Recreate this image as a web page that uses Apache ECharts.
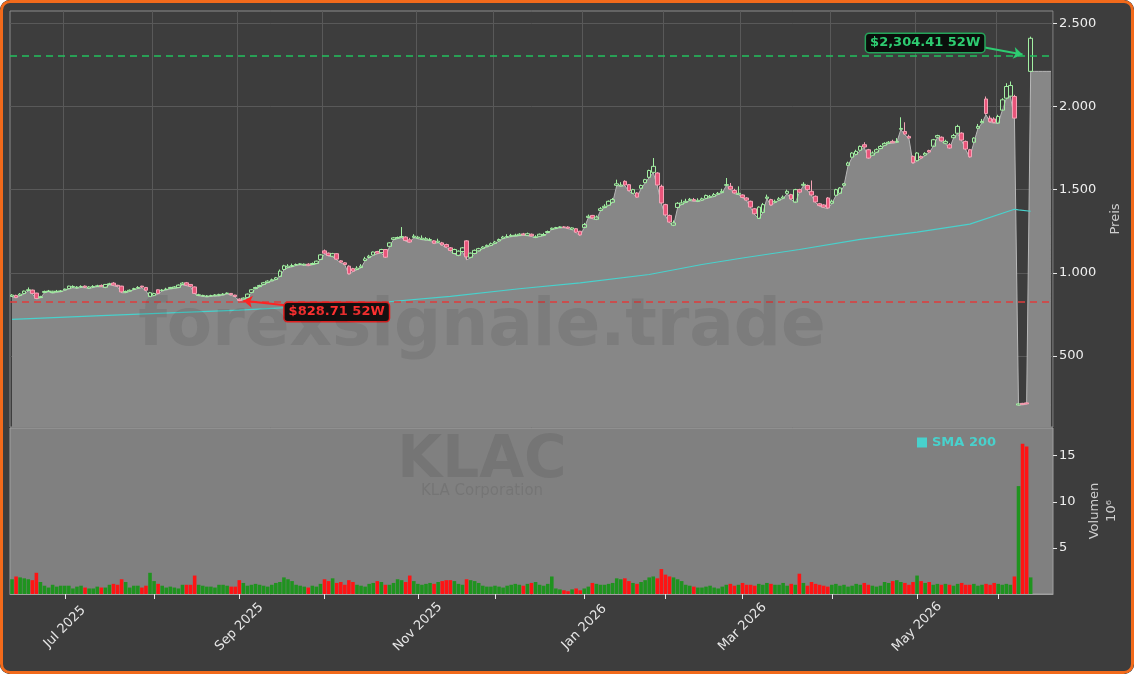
<!DOCTYPE html>
<html>
<head>
<meta charset="utf-8">
<script src="https://cdn.jsdelivr.net/npm/echarts@6/dist/echarts.min.js"></script>
<style>
html,body{margin:0;padding:0;background:#ffffff;}
#wrap{position:relative;width:1134px;height:674px;border-radius:10px;overflow:hidden;background:#3d3d3d;}
#chart{position:absolute;left:0;top:0;width:1134px;height:674px;}
#frame{position:absolute;left:0;top:0;width:1134px;height:674px;box-sizing:border-box;border:3px solid #f26a1b;border-radius:10px;pointer-events:none;}
</style>
</head>
<body>
<div id="wrap"><div id="chart"></div><div id="frame"></div></div>
<script>
// ---------- DATA ----------
const START_DATE = '2025-06-11';
const HOLIDAYS = ['2025-06-19','2025-07-04','2025-09-01','2025-11-27','2025-12-25','2026-01-01','2026-01-19','2026-02-16','2026-04-03','2026-05-25','2026-06-19'];
const EXTRA_SLOTS = 5;

const OPEN = [858,864,864,876,894,896,878,851,882,888,881,886,888,897,905,913,910,915,920,908,914,918,924,913,930,938,925,920,883,890,900,908,920,912,858,864,898,893,899,905,909,912,930,940,930,915,864,860,857,860,862,863,868,875,876,866,842,842,851,882,905,917,930,942,952,960,978,1020,1033,1038,1046,1050,1047,1052,1050,1056,1080,1132,1118,1100,1115,1072,1060,1040,1025,1020,1032,1074,1092,1107,1128,1122,1140,1159,1201,1208,1213,1215,1198,1213,1208,1201,1198,1195,1192,1183,1180,1170,1150,1116,1105,1128,1192,1093,1116,1132,1147,1157,1165,1177,1192,1207,1214,1219,1222,1225,1234,1225,1232,1213,1220,1225,1242,1261,1267,1272,1276,1275,1262,1265,1250,1273,1333,1345,1322,1375,1392,1406,1424,1526,1522,1550,1530,1478,1480,1508,1542,1574,1604,1600,1520,1410,1345,1286,1393,1412,1424,1436,1440,1430,1437,1448,1454,1460,1472,1482,1526,1520,1495,1472,1468,1450,1430,1385,1327,1363,1448,1440,1424,1437,1448,1478,1470,1425,1500,1526,1525,1490,1460,1415,1408,1450,1418,1466,1478,1526,1646,1695,1712,1737,1770,1740,1707,1725,1747,1767,1779,1790,1785,1863,1850,1820,1700,1674,1700,1708,1735,1761,1815,1815,1779,1770,1812,1839,1840,1790,1740,1785,1869,1902,2045,1930,1925,1900,1978,2050,2062,2060,205,215,218,2211];
const CLOSE = [866,852,872,890,898,876,846,856,888,890,889,889,891,902,920,918,914,918,913,915,918,922,919,930,934,926,920,885,888,895,905,912,914,895,880,875,876,896,902,912,915,926,938,926,919,876,868,864,861,863,867,870,872,878,868,858,834,848,872,898,912,924,940,950,958,970,1010,1042,1040,1044,1050,1054,1052,1046,1056,1070,1108,1118,1104,1115,1082,1064,1050,994,1010,1028,1040,1084,1100,1125,1118,1140,1094,1180,1210,1212,1218,1194,1185,1220,1214,1208,1205,1200,1178,1190,1168,1155,1134,1140,1130,1150,1096,1118,1135,1145,1155,1165,1175,1185,1200,1215,1218,1225,1226,1232,1228,1235,1222,1216,1232,1230,1248,1268,1272,1276,1273,1268,1270,1244,1228,1290,1340,1330,1335,1385,1400,1430,1440,1535,1528,1528,1494,1500,1455,1525,1560,1615,1640,1528,1420,1348,1305,1300,1418,1420,1430,1442,1433,1436,1445,1465,1460,1470,1478,1490,1530,1503,1480,1478,1453,1437,1395,1355,1395,1410,1455,1408,1430,1445,1455,1490,1444,1500,1485,1532,1500,1468,1426,1404,1395,1390,1430,1500,1510,1535,1660,1720,1730,1760,1756,1690,1720,1740,1760,1778,1785,1782,1790,1868,1834,1810,1662,1720,1690,1718,1726,1800,1825,1793,1790,1750,1825,1880,1798,1744,1697,1810,1880,1910,1958,1908,1903,1940,2040,2120,2126,1930,212,209,212,2410];
const LOW = [855,849,862,873,891,873,843,849,880,885,878,882,885,895,903,910,906,912,910,905,912,916,916,910,928,922,916,880,880,888,898,905,910,891,855,862,873,891,897,903,907,910,928,922,916,873,861,858,855,858,860,861,866,873,865,855,829,840,849,880,903,915,928,940,950,958,976,1018,1030,1036,1044,1048,1045,1042,1048,1054,1078,1114,1100,1096,1078,1060,1048,990,1006,1018,1030,1072,1090,1105,1114,1120,1090,1157,1199,1205,1211,1190,1181,1211,1205,1199,1196,1193,1175,1181,1165,1151,1130,1114,1102,1125,1078,1090,1114,1130,1145,1155,1163,1175,1190,1205,1212,1217,1220,1223,1225,1223,1218,1211,1218,1223,1240,1259,1265,1270,1271,1265,1259,1240,1223,1271,1331,1325,1319,1373,1390,1404,1422,1524,1520,1524,1490,1476,1452,1506,1540,1572,1602,1524,1416,1343,1300,1283,1391,1410,1422,1434,1430,1428,1435,1446,1452,1458,1470,1480,1524,1500,1476,1470,1450,1434,1391,1350,1325,1361,1446,1404,1422,1435,1446,1476,1440,1422,1482,1524,1495,1464,1422,1400,1392,1385,1416,1464,1476,1524,1644,1693,1710,1735,1753,1687,1705,1723,1745,1765,1777,1780,1783,1861,1830,1807,1657,1672,1687,1705,1723,1759,1813,1790,1777,1747,1810,1837,1795,1740,1693,1783,1867,1900,1950,1904,1900,1898,1976,2048,2060,1928,203,206,210,2211];
const HIGH = [872,868,878,893,912,899,880,862,893,897,892,897,896,905,922,925,920,925,924,920,926,928,930,932,940,944,928,922,893,900,910,920,922,915,885,880,900,902,910,915,920,930,944,945,932,918,874,868,866,868,872,874,878,882,878,868,846,852,875,902,916,928,945,955,965,975,1020,1048,1052,1055,1056,1058,1056,1058,1062,1073,1112,1140,1122,1120,1118,1076,1064,1045,1030,1040,1052,1096,1108,1128,1132,1144,1142,1184,1214,1218,1275,1220,1210,1232,1222,1225,1215,1210,1196,1205,1186,1175,1155,1145,1135,1155,1196,1122,1140,1150,1160,1170,1182,1192,1206,1222,1232,1234,1235,1238,1240,1242,1236,1226,1236,1240,1254,1272,1276,1280,1281,1280,1274,1268,1252,1300,1350,1348,1345,1395,1412,1435,1450,1560,1545,1556,1534,1505,1485,1530,1565,1620,1690,1605,1530,1415,1350,1315,1425,1440,1445,1450,1450,1448,1452,1470,1468,1480,1486,1505,1570,1540,1505,1520,1472,1455,1434,1390,1400,1420,1470,1445,1440,1455,1465,1500,1475,1505,1505,1545,1530,1555,1465,1420,1412,1455,1440,1505,1515,1540,1668,1725,1740,1765,1785,1745,1730,1748,1768,1785,1792,1800,1810,1935,1905,1830,1705,1725,1705,1725,1740,1805,1830,1820,1800,1780,1835,1890,1845,1795,1745,1815,1895,1925,2060,1945,1935,1950,2050,2140,2150,2070,214,218,220,2420];
// area continues flat after the last candle
const AREA_TAIL = [2211,2211,2211,2211,2211];

// volume in millions
const VOLUME = [
1.6,1.9,1.8,1.7,1.6,1.5,2.3,1.3,0.9,0.7,
1.0,0.8,0.9,0.9,0.9,0.6,0.8,0.9,0.7,0.6,
0.6,0.8,0.7,0.7,1.0,1.1,1.0,1.6,1.3,0.7,
0.9,0.9,0.7,0.9,2.3,1.4,1.1,0.9,0.7,0.8,
0.7,0.6,1.0,1.0,1.0,2.0,1.0,0.9,0.8,0.8,
0.7,1.0,1.0,0.9,0.8,0.8,1.5,1.2,0.9,1.0,
1.1,1.0,0.9,0.8,1.0,1.2,1.3,1.8,1.6,1.4,
1.0,0.9,0.8,0.7,0.9,0.8,1.1,1.6,1.4,1.7,
1.2,1.3,1.0,1.5,1.3,1.0,0.9,0.8,1.1,1.2,
1.4,1.3,1.0,1.0,1.2,1.6,1.5,1.3,2.0,1.4,
1.1,1.0,1.1,1.2,1.1,1.3,1.4,1.5,1.5,1.4,
1.1,1.0,1.6,1.5,1.4,1.2,0.9,0.8,0.8,0.9,
0.8,0.7,0.9,1.0,1.1,1.0,0.9,1.1,1.2,1.3,
1.0,0.9,1.1,1.9,0.6,0.5,0.4,0.3,0.5,0.6,
0.4,0.6,0.8,1.2,1.1,1.0,1.0,1.1,1.2,1.7,
1.6,1.7,1.4,1.2,1.1,1.3,1.5,1.8,1.9,1.7,
2.7,2.1,1.9,1.8,1.6,1.4,1.0,0.9,0.8,0.7,
0.7,0.8,0.9,0.7,0.6,0.8,1.0,1.1,0.9,1.0,
1.2,1.0,1.0,0.9,1.1,1.0,1.2,1.1,1.0,1.0,
1.2,0.9,1.1,1.0,2.2,1.2,0.9,1.3,1.1,1.0,
0.9,0.8,1.0,1.1,0.9,1.0,0.8,0.9,1.1,1.0,
1.2,1.0,0.9,0.8,0.9,1.3,1.2,1.4,1.5,1.3,
1.2,1.0,1.3,2.0,1.4,1.2,1.3,1.0,1.1,1.0,
1.1,1.0,0.9,1.1,1.2,1.0,1.0,1.1,0.9,1.0,
1.1,1.0,1.2,1.1,1.0,1.1,1.0,1.9,11.7,16.3,
16.0,1.8];

// SMA 200 points (candle index, value)
const SMA_IDX = [0,22,56,90,108,125,140,157,170,180,194,209,223,236,247,248,251];
const SMA_VAL = [720,742,776,820,858,904,939,990,1050,1089,1140,1201,1245,1293,1382,1378,1370];

const PRICE_TICKS = [500,1000,1500,2000,2500];
const VOLUME_TICKS = [5,10,15];
const LOW_52W = 828.71, HIGH_52W = 2304.41;
const LOW_LABEL = '$828.71 52W', HIGH_LABEL = '$2,304.41 52W';
const MONTHS = ['Jan','Feb','Mar','Apr','May','Jun','Jul','Aug','Sep','Oct','Nov','Dec'];

// ---------- trading calendar ----------
function pad(n){return n<10?'0'+n:''+n;}
function tradingDays(start, n){
  const out=[]; const d=new Date(start+'T12:00:00Z');
  while(out.length<n){
    const wd=d.getUTCDay();
    const s=d.getUTCFullYear()+'-'+pad(d.getUTCMonth()+1)+'-'+pad(d.getUTCDate());
    if(wd!==0 && wd!==6 && HOLIDAYS.indexOf(s)<0) out.push(s);
    d.setUTCDate(d.getUTCDate()+1);
  }
  return out;
}
const DATES = tradingDays(START_DATE, CLOSE.length + EXTRA_SLOTS);
function monthStart(i){ return i>0 && DATES[i].slice(5,7)!==DATES[i-1].slice(5,7); }
function labelMonth(i){ return monthStart(i) && (parseInt(DATES[i].slice(5,7),10)%2===1); }
function fmtDE(v){ return String(v).replace(/\B(?=(\d{3})+(?!\d))/g,'.'); }

const candles = OPEN.map((o,i)=>[o, CLOSE[i], LOW[i], HIGH[i]]);
const areaData = LOW.concat(AREA_TAIL);
const smaData = SMA_IDX.map((x,i)=>[x, SMA_VAL[i]]);
const volData = VOLUME.map((v,i)=>({value:v, itemStyle:{color: CLOSE[i]>=OPEN[i] ? '#1f931f' : '#ff1414'}}));

const chart = echarts.init(document.getElementById('chart'), null, {renderer:'canvas'});
chart.setOption({
  backgroundColor:'#3d3d3d',
  animation:false,
  textStyle:{fontFamily:'DejaVu Sans'},
  legend:{data:['SMA 200'], left:912, top:431, icon:'rect', itemWidth:10, itemHeight:10, itemGap:5,
    textStyle:{color:'#48d1cc', fontWeight:'bold', fontSize:13, fontFamily:'DejaVu Sans'}},
  grid:[
    {left:10, right:81, top:11, height:416, show:true, borderColor:'#8c8c8c', borderWidth:1, backgroundColor:'transparent'},
    {left:10, right:81, top:428, height:166, show:true, backgroundColor:'#808080', borderColor:'#a0a0a0', borderWidth:1}
  ],
  xAxis:[
    {type:'category', gridIndex:0, data:DATES, boundaryGap:true,
      axisLine:{show:false}, axisTick:{show:false}, axisLabel:{show:false},
      splitLine:{show:true, interval:(i)=>monthStart(i), lineStyle:{color:'#595959', width:1}}},
    {type:'category', gridIndex:1, data:DATES, boundaryGap:true,
      axisLine:{show:true, lineStyle:{color:'#a0a0a0'}},
      axisTick:{show:true, alignWithLabel:true, interval:(i)=>monthStart(i), length:5, lineStyle:{color:'#e6e6e6'}},
      axisLabel:{interval:(i)=>labelMonth(i), rotate:45, color:'#e6e6e6', fontSize:13, margin:33,
        align:'center', verticalAlign:'middle',
        formatter:(v)=>MONTHS[parseInt(v.slice(5,7),10)-1]+' '+v.slice(0,4)},
      splitLine:{show:false}}
  ],
  yAxis:[
    {type:'value', gridIndex:0, position:'right', min:73, max:2574, scale:true,
      axisLine:{show:false},
      axisTick:{show:true, length:4, customValues:PRICE_TICKS, lineStyle:{color:'#e6e6e6'}},
      axisLabel:{color:'#eeeeee', fontSize:13, margin:6, customValues:PRICE_TICKS, formatter:fmtDE},
      splitLine:{show:true, lineStyle:{color:'#595959'}},
      name:'Preis', nameLocation:'middle', nameGap:56, nameTextStyle:{color:'#cfcfcf', fontSize:13}},
    {type:'value', gridIndex:1, position:'right', min:0, max:18,
      axisLine:{show:false},
      axisTick:{show:true, length:4, customValues:VOLUME_TICKS, lineStyle:{color:'#e6e6e6'}},
      axisLabel:{color:'#eeeeee', fontSize:13, margin:6, customValues:VOLUME_TICKS},
      splitLine:{show:false},
      name:'Volumen\n10⁶', nameLocation:'middle', nameGap:30,
      nameTextStyle:{color:'#cfcfcf', fontSize:13, lineHeight:17, align:'center'}}
  ],
  series:[
    {name:'Kurs', type:'line', xAxisIndex:0, yAxisIndex:0, data:areaData, symbol:'none', z:1,
      lineStyle:{color:'#b8b8b8', width:1},
      areaStyle:{color:'#878787', opacity:1, origin:'start'},
      markLine:{silent:true, symbol:['none','none'], label:{show:false}, animation:false,
        data:[
          {yAxis:LOW_52W, lineStyle:{color:'#e03c3c', type:[7,5], width:1.5}},
          {yAxis:HIGH_52W, lineStyle:{color:'#22c15e', type:[7,5], width:1.5}},
          [{coord:[69,800], symbol:'none', lineStyle:{color:'#ff2222', type:'solid', width:2}},
           {coord:[57,832], symbol:'arrow', symbolSize:9}],
          [{coord:[239,2358], symbol:'none', lineStyle:{color:'#2ecc71', type:'solid', width:2}},
           {coord:[249,2313], symbol:'arrow', symbolSize:9}]
        ]},
      markPoint:{silent:true, animation:false,
        data:[
          {coord:[80,764], symbol:'rect', symbolSize:[1,1], itemStyle:{color:'rgba(0,0,0,0)'},
            label:{show:true, position:'inside', formatter:LOW_LABEL, color:'#ff3030', fontWeight:'bold', fontSize:13,
              backgroundColor:'#141010', borderColor:'#e02020', borderWidth:1.5, borderRadius:3, padding:[3,4,2,4]}},
          {coord:[225,2382], symbol:'rect', symbolSize:[1,1], itemStyle:{color:'rgba(0,0,0,0)'},
            label:{show:true, position:'inside', formatter:HIGH_LABEL, color:'#2ecc71', fontWeight:'bold', fontSize:13,
              backgroundColor:'#0b0f0c', borderColor:'#25a55a', borderWidth:1.5, borderRadius:3, padding:[3,4,2,4]}}
        ]}
    },
    {name:'SMA 200', type:'line', xAxisIndex:0, yAxisIndex:0, data:smaData, symbol:'none', z:3,
      color:'#48d1cc', lineStyle:{color:'#48d1cc', width:1.2}},
    {name:'KLAC', type:'candlestick', xAxisIndex:0, yAxisIndex:0, data:candles, barWidth:4, z:4,
      itemStyle:{color:'rgba(60,60,60,0.35)', color0:'#e8557a', borderColor:'#a2f0a2', borderColor0:'#f5a3b6', borderWidth:1}},
    {name:'Volumen', type:'bar', xAxisIndex:1, yAxisIndex:1, data:volData, barCategoryGap:'12%', z:2}
  ],
  graphic:[
    {type:'text', x:482, y:328, z:100, silent:true,
      style:{text:'forexsignale.trade', textAlign:'center', textVerticalAlign:'middle',
        font:'bold 66px "DejaVu Sans"', fill:'rgba(30,30,30,0.10)'}},
    {type:'text', x:482, y:462, z:100, silent:true,
      style:{text:'KLAC', textAlign:'center', textVerticalAlign:'middle',
        font:'bold 58px "DejaVu Sans"', fill:'rgba(30,30,30,0.11)'}},
    {type:'text', x:482, y:491, z:100, silent:true,
      style:{text:'KLA Corporation', textAlign:'center', textVerticalAlign:'middle',
        font:'15px "DejaVu Sans"', fill:'rgba(30,30,30,0.11)'}}
  ]
});
</script>
</body>
</html>
